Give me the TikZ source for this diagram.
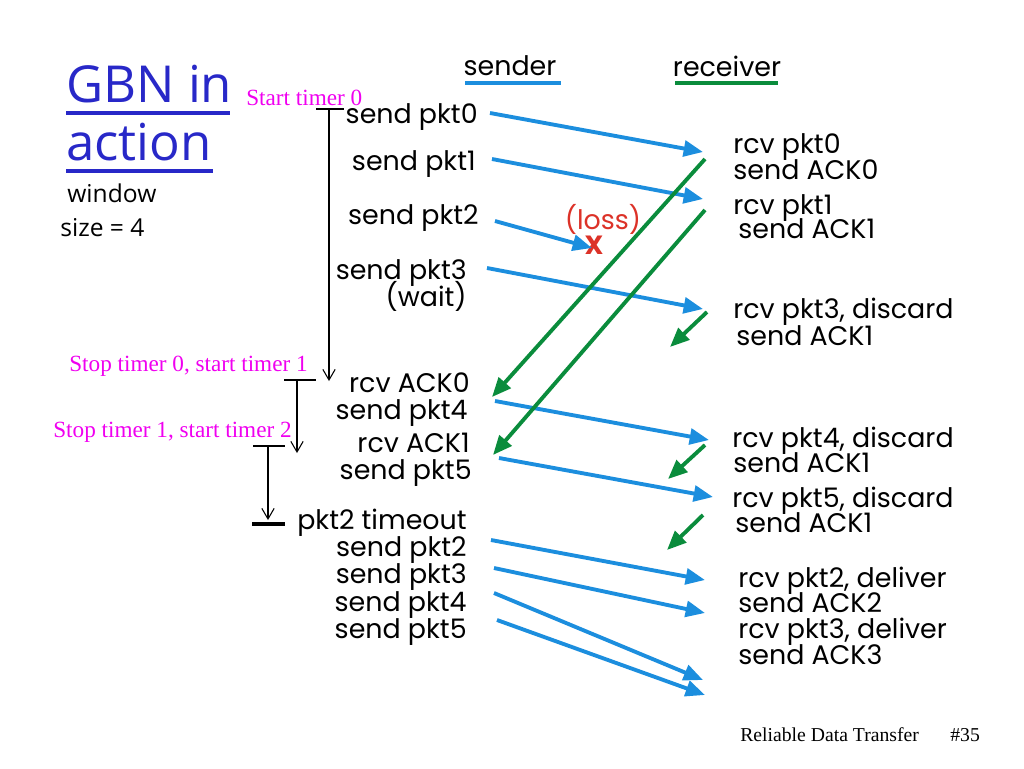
\documentclass[tikz,border=0pt]{standalone}
\usepackage{fontspec}
\setmainfont{Liberation Serif}
\newfontfamily\gothic{Poppins}
\newfontfamily\comic{Open Sans}
\usetikzlibrary{arrows.meta}
\definecolor{pblue}{RGB}{28,142,222}
\definecolor{agreen}{RGB}{10,140,60}
\definecolor{tblue}{RGB}{40,40,200}
\definecolor{lossred}{RGB}{220,50,40}
\definecolor{mag}{RGB}{240,0,240}
\tikzset{
 gfont/.style={font=\gothic\fontsize{15.3}{17}\selectfont},
 snd/.style={gfont, inner sep=0pt, anchor=east, text height=0.74em, text depth=0.2em, yshift=-2.3pt},
 rcvr/.style={gfont, inner sep=0pt, anchor=west, text height=0.74em, text depth=0.2em, yshift=-2.3pt},
 pk/.style={draw=pblue, line width=2.2pt, -{Triangle[length=11pt,width=9pt]}},
 ak/.style={draw=agreen, line width=2.2pt, -{Triangle[length=11pt,width=9pt]}},
 tm/.style={draw=black, line width=0.6pt},
 tmarrow/.style={tm, -{Straight Barb[length=6pt,width=7pt]}},
 tmlab/.style={text=mag, font=\fontsize{13.2}{15}\selectfont, inner sep=0pt},
}
\begin{document}
\begin{tikzpicture}[x=0.02cm,y=-0.02cm]
\useasboundingbox (0,0) rectangle (1024,768);
% title
\node[anchor=west, inner sep=0pt, text=tblue, font=\comic\fontsize{29}{32}\selectfont] (t1) at (66,84) {GBN in};
\node[anchor=west, inner sep=0pt, text=tblue, font=\comic\fontsize{29}{32}\selectfont] (t2) at (66,142) {action};
\draw[tblue, line width=2pt] (66,113) -- (230,113);
\draw[tblue, line width=2pt] (66,171) -- (213,171);
\node[anchor=west, inner sep=0pt, font=\comic\fontsize{14}{16}\selectfont] (w1) at (67,193) {window};
\node[anchor=west, inner sep=0pt, font=\comic\fontsize{14}{16}\selectfont] (w2) at (60,228) {size = 4};
% headers
\node[gfont, inner sep=0pt] (hs) at (510,66) {sender};
\node[gfont, inner sep=0pt] (hr) at (727,66) {receiver};
\draw[pblue, line width=2.2pt] (465,83) -- (561,83);
\draw[agreen, line width=2.2pt] (675,83) -- (778,83);
% sender labels
\node[snd] (s0) at (478,115) {send pkt0};
\node[snd] (s1) at (476,162) {send pkt1};
\node[snd] (s2) at (479,216) {send pkt2};
\node[snd] (s3) at (467,271) {send pkt3};
\node[snd] (sw) at (467,298) {(wait)};
\node[snd] (a0) at (470,384) {rcv ACK0};
\node[snd] (s4) at (468,411) {send pkt4};
\node[snd] (a1) at (470,444) {rcv ACK1};
\node[snd] (s5) at (472,471) {send pkt5};
\node[snd] (to) at (467,521) {pkt2 timeout};
\node[snd] (r2) at (467,548) {send pkt2};
\node[snd] (r3) at (467,575) {send pkt3};
\node[snd] (r4) at (467,603) {send pkt4};
\node[snd] (r5) at (467,630) {send pkt5};
% receiver labels
\node[rcvr] (p0) at (733,145) {rcv pkt0};
\node[rcvr] (k0) at (733,171) {send ACK0};
\node[rcvr] (p1) at (733,206) {rcv pkt1};
\node[rcvr] (k1) at (738,230) {send ACK1};
\node[rcvr] (p3) at (733,310) {rcv pkt3, discard};
\node[rcvr] (k3) at (736,337) {send ACK1};
\node[rcvr] (p4) at (732,439) {rcv pkt4, discard};
\node[rcvr] (k4) at (733,464) {send ACK1};
\node[rcvr] (p5) at (732,499) {rcv pkt5, discard};
\node[rcvr] (k5) at (735,524) {send ACK1};
\node[rcvr] (d2) at (738,579) {rcv pkt2, deliver};
\node[rcvr] (e2) at (738,604) {send ACK2};
\node[rcvr] (d3) at (738,630) {rcv pkt3, deliver};
\node[rcvr] (e3) at (738,656) {send ACK3};
% loss
\node[text=lossred, gfont, inner sep=0pt] (loss) at (603,219) {(loss)};
\node[text=lossred, font=\gothic\bfseries\fontsize{15}{16}\selectfont, inner sep=0pt] (lx) at (594,245) {X};
% packet arrow endpoints
\coordinate (b0s) at (490,113); \coordinate (b0e) at (703,152);
\coordinate (b1s) at (492,159); \coordinate (b1e) at (703,199);
\coordinate (b2s) at (495,221); \coordinate (b2e) at (592,248);
\coordinate (b3s) at (487,268); \coordinate (b3e) at (703,309);
\coordinate (b4s) at (495,401); \coordinate (b4e) at (709,440);
\coordinate (b5s) at (499,458); \coordinate (b5e) at (713,497);
\coordinate (b6s) at (491,540); \coordinate (b6e) at (705,580);
\coordinate (b7s) at (494,568); \coordinate (b7e) at (705,613);
\coordinate (b8s) at (494,593); \coordinate (b8e) at (703,680);
\coordinate (b9s) at (497,620); \coordinate (b9e) at (705,695);
\draw[pk] (b0s) -- (b0e);
\draw[pk] (b1s) -- (b1e);
\draw[pk] (b2s) -- (b2e);
\draw[pk] (b3s) -- (b3e);
\draw[pk] (b4s) -- (b4e);
\draw[pk] (b5s) -- (b5e);
\draw[pk] (b6s) -- (b6e);
\draw[pk] (b7s) -- (b7e);
\draw[pk] (b8s) -- (b8e);
\draw[pk] (b9s) -- (b9e);
% ack arrow endpoints
\coordinate (g0s) at (705,159); \coordinate (g0e) at (492,397);
\coordinate (g1s) at (705,210); \coordinate (g1e) at (493,455);
\coordinate (g2s) at (707,312); \coordinate (g2e) at (670,347);
\coordinate (g3s) at (705,445); \coordinate (g3e) at (668,479);
\coordinate (g4s) at (703,515); \coordinate (g4e) at (667,550);
\draw[ak] (g0s) -- (g0e);
\draw[ak] (g1s) -- (g1e);
\draw[ak] (g2s) -- (g2e);
\draw[ak] (g3s) -- (g3e);
\draw[ak] (g4s) -- (g4e);
% timers
\node[tmlab, anchor=south west] (st0) at (246,106) {Start timer 0};
\node[tmlab, anchor=south east] (st1) at (308,377) {Stop timer 0, start timer 1};
\node[tmlab, anchor=south east] (st2) at (292,443) {Stop timer 1, start timer 2};
\coordinate (h0a) at (316,109); \coordinate (h0b) at (344,109);
\coordinate (v0a) at (329,109); \coordinate (v0b) at (329,381);
\coordinate (h1a) at (284,380); \coordinate (h1b) at (316,380);
\coordinate (v1a) at (297,380); \coordinate (v1b) at (297,453);
\coordinate (h2a) at (253,446); \coordinate (h2b) at (285,446);
\coordinate (v2a) at (268,446); \coordinate (v2b) at (268,520);
\coordinate (bar0) at (252,524); \coordinate (bar1) at (285,524);
\draw[tm] (h0a) -- (h0b);
\draw[tmarrow] (v0a) -- (v0b);
\draw[tm] (h1a) -- (h1b);
\draw[tmarrow] (v1a) -- (v1b);
\draw[tm] (h2a) -- (h2b);
\draw[tmarrow] (v2a) -- (v2b);
\draw[line width=2.4pt] (bar0) -- (bar1);
% footer
\node[anchor=west, inner sep=0pt, font=\fontsize{11.2}{13}\selectfont] (foot) at (740,735) {Reliable Data Transfer};
\node[anchor=west, inner sep=0pt, font=\fontsize{11.2}{13}\selectfont] (num) at (950,735) {\#35};
\end{tikzpicture}
\end{document}
